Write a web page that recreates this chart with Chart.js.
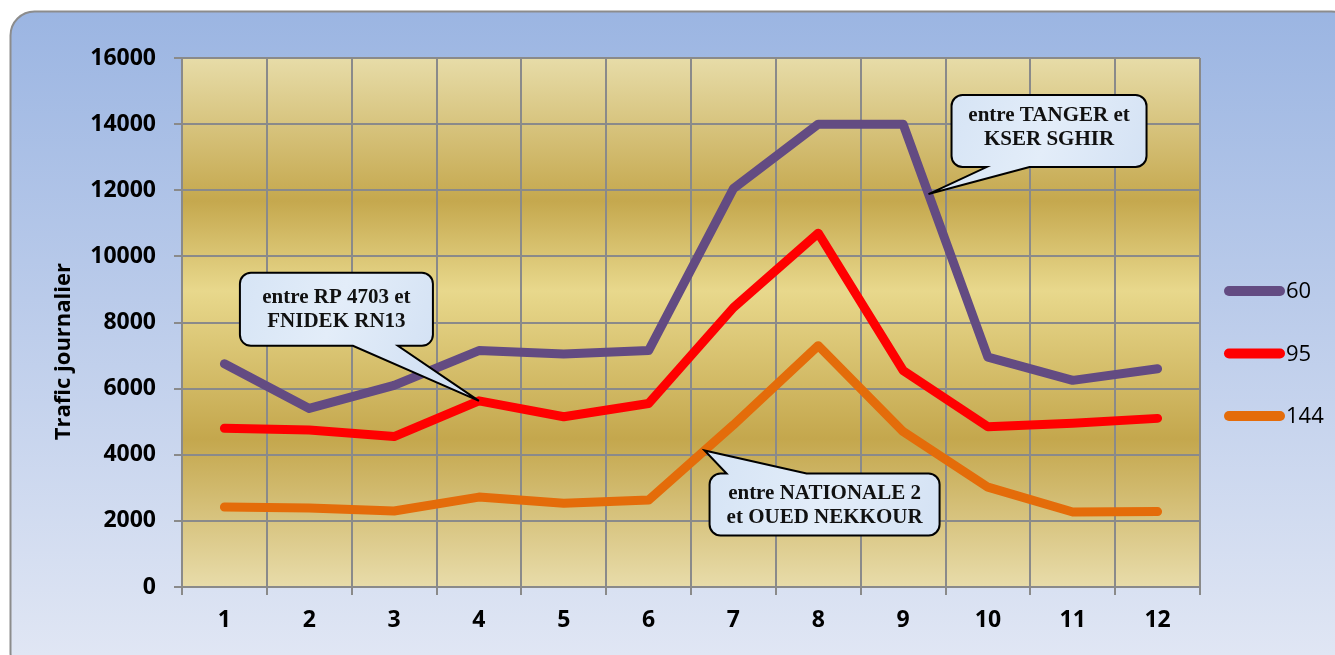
<!DOCTYPE html>
<html>
<head>
<meta charset="utf-8">
<script src="https://cdn.jsdelivr.net/npm/chart.js@4.4.0/dist/chart.umd.min.js"></script>
<style>
  body { margin: 0; background: #fff; }
  canvas { display: block; }
</style>
</head>
<body>
<canvas id="myChart" width="1335" height="655"></canvas>
<script>
// months
const categories = ['1', '2', '3', '4', '5', '6', '7', '8', '9', '10', '11', '12'];

// daily traffic per road section
const trafic60 = [6750, 5400, 6100, 7150, 7050, 7150, 12050, 14000, 14000, 6950, 6250, 6600];
const trafic95 = [4800, 4750, 4550, 5630, 5150, 5550, 8450, 10700, 6550, 4850, 4950, 5100];
const trafic144 = [2420, 2390, 2300, 2720, 2530, 2630, 4900, 7300, 4700, 3020, 2270, 2280];

const seriesNames = ['60', '95', '144'];
const yMin = 0, yMax = 16000, yStep = 2000;
const yTitle = 'Trafic journalier';

const axisFont = '"Open Sans"';
const colors = ['#634b82', '#ff0000', '#e46c0a'];

// callouts: which line they point at (dataset, index, fraction to next point)
const callouts = [
  { lines: ['entre RP 4703 et', 'FNIDEK RN13'], ds: 1, idx: 3, frac: 0, dx: -239, dy: -128, w: 193, h: 73, side: 'bottom', b1: 113, b2: 158, ty: 0 },
  { lines: ['entre TANGER et', 'KSER SGHIR'], ds: 0, idx: 8, frac: 0.3, dx: 23, dy: -99, w: 195, h: 72, side: 'bottom', b1: 35, b2: 78, ty: -3 },
  { lines: ['entre NATIONALE 2', 'et OUED NEKKOUR'], ds: 2, idx: 5, frac: 0.66, dx: 5, dy: 23, w: 230, h: 62, side: 'top', b1: 17, b2: 97, ty: 1 }
];

const backdrop = {
  id: 'backdrop',
  beforeDraw(chart) {
    const ctx = chart.ctx;
    const a = chart.chartArea;
    ctx.save();
    ctx.fillStyle = '#fff';
    ctx.fillRect(0, 0, chart.width, chart.height);
    // outer rounded panel
    const g = ctx.createLinearGradient(0, 10, 0, chart.height);
    g.addColorStop(0, '#9bb5e2');
    g.addColorStop(1, '#e0e6f4');
    ctx.beginPath();
    ctx.roundRect(10.5, 11.5, chart.width + 10, chart.height + 10, 24);
    ctx.fillStyle = g;
    ctx.fill();
    ctx.lineWidth = 2;
    ctx.strokeStyle = '#8c8c8c';
    ctx.stroke();
    // plot area
    const pg = ctx.createLinearGradient(0, a.top, 0, a.bottom);
    pg.addColorStop(0, '#e7dca8');
    pg.addColorStop(0.27, '#c5a84e');
    pg.addColorStop(0.44, '#e8d88c');
    pg.addColorStop(0.72, '#c4a74d');
    pg.addColorStop(1, '#e8dcaa');
    ctx.fillStyle = pg;
    ctx.fillRect(a.left, a.top, a.right - a.left, a.bottom - a.top);
    ctx.restore();
  }
};

function calloutPath(ctx, x, y, w, h, r, c, tip) {
  ctx.beginPath();
  ctx.moveTo(x + r, y);
  if (c.side === 'top') {
    ctx.lineTo(x + c.b1, y);
    ctx.lineTo(tip.x, tip.y);
    ctx.lineTo(x + c.b2, y);
  }
  ctx.arcTo(x + w, y, x + w, y + h, r);
  ctx.arcTo(x + w, y + h, x, y + h, r);
  if (c.side === 'bottom') {
    ctx.lineTo(x + c.b2, y + h);
    ctx.lineTo(tip.x, tip.y);
    ctx.lineTo(x + c.b1, y + h);
  }
  ctx.arcTo(x, y + h, x, y, r);
  ctx.arcTo(x, y, x + w, y, r);
  ctx.closePath();
}

const extras = {
  id: 'extras',
  afterDatasetsDraw(chart) {
    const ctx = chart.ctx;
    ctx.save();
    callouts.forEach(c => {
      const pts = chart.getDatasetMeta(c.ds).data;
      const p0 = pts[c.idx];
      const p1 = pts[c.idx + 1] || p0;
      const tip = { x: p0.x + (p1.x - p0.x) * c.frac, y: p0.y + (p1.y - p0.y) * c.frac };
      const bx = tip.x + c.dx, by = tip.y + c.dy;
      calloutPath(ctx, bx, by, c.w, c.h, 11, c, tip);
      const fg = ctx.createLinearGradient(bx, by, bx + c.w, by + c.h);
      fg.addColorStop(0, '#d6e4f5');
      fg.addColorStop(0.5, '#e3edf9');
      fg.addColorStop(1, '#d4e2f4');
      ctx.fillStyle = fg;
      ctx.fill();
      ctx.lineWidth = 2;
      ctx.lineJoin = 'miter';
      ctx.strokeStyle = '#000';
      ctx.stroke();
      ctx.fillStyle = '#111';
      ctx.font = 'bold 21px "Liberation Serif", "Times New Roman", serif';
      ctx.textAlign = 'center';
      ctx.textBaseline = 'middle';
      const cy = by + c.h / 2 + c.ty;
      c.lines.forEach((t, k) => {
        ctx.fillText(t, bx + c.w / 2, cy + (k - (c.lines.length - 1) / 2) * 24);
      });
    });
    ctx.restore();
  },
  afterDraw(chart) {
    const ctx = chart.ctx;
    const a = chart.chartArea;
    ctx.save();
    // y axis title, sits a bit below the middle like the original
    ctx.translate(64, a.top + (a.bottom - a.top) * 0.555);
    ctx.rotate(-Math.PI / 2);
    ctx.fillStyle = '#000';
    ctx.font = 'bold 22px ' + axisFont;
    ctx.textAlign = 'center';
    ctx.textBaseline = 'middle';
    ctx.fillText(yTitle, 0, 0);
    ctx.restore();

    // legend on the right
    ctx.save();
    const lx = a.right + 29;
    const ly0 = a.top + 233;
    seriesNames.forEach((name, i) => {
      const y = ly0 + i * 62.5;
      ctx.beginPath();
      ctx.moveTo(lx, y);
      ctx.lineTo(lx + 51, y);
      ctx.lineWidth = 10;
      ctx.lineCap = 'round';
      ctx.strokeStyle = colors[i];
      ctx.stroke();
      ctx.fillStyle = '#000';
      ctx.font = '22px ' + axisFont;
      ctx.textAlign = 'left';
      ctx.textBaseline = 'middle';
      ctx.fillText(name, lx + 57, y + 1);
    });
    ctx.restore();
  }
};

const ctx = document.getElementById('myChart');

function lineSet(label, data, color) {
  return {
    label: label,
    data: data,
    borderColor: color,
    backgroundColor: color,
    borderWidth: 9,
    borderCapStyle: 'round',
    borderJoinStyle: 'round',
    pointRadius: 0,
    pointHoverRadius: 0,
    tension: 0,
    fill: false
  };
}

new Chart(ctx, {
  type: 'line',
  data: {
    labels: categories,
    datasets: [
      lineSet(seriesNames[0], trafic60, colors[0]),
      lineSet(seriesNames[1], trafic95, colors[1]),
      lineSet(seriesNames[2], trafic144, colors[2])
    ]
  },
  plugins: [backdrop, extras],
  options: {
    responsive: false,
    animation: false,
    events: [],
    layout: { padding: { left: 45, top: 58, right: 135, bottom: 18 } },
    plugins: {
      legend: { display: false },
      tooltip: { enabled: false }
    },
    scales: {
      x: {
        offset: true,
        grid: { offset: true, color: '#8a8a8a', lineWidth: 2, tickLength: 8 },
        border: { color: '#8a8a8a', width: 2 },
        ticks: { color: '#000', font: { family: axisFont, size: 23, weight: 'bold' }, padding: 12, maxRotation: 0 },
        afterFit(scale) { scale.height = 50; }
      },
      y: {
        min: yMin,
        max: yMax,
        ticks: {
          stepSize: yStep,
          color: '#000',
          font: { family: axisFont, size: 23, weight: 'bold' },
          padding: 18,
          callback: v => String(v)
        },
        grid: { color: '#8a8a8a', lineWidth: 2, tickLength: 8 },
        border: { color: '#8a8a8a', width: 2 },
        afterFit(scale) { scale.width = 137; }
      }
    }
  }
});
</script>
</body>
</html>
